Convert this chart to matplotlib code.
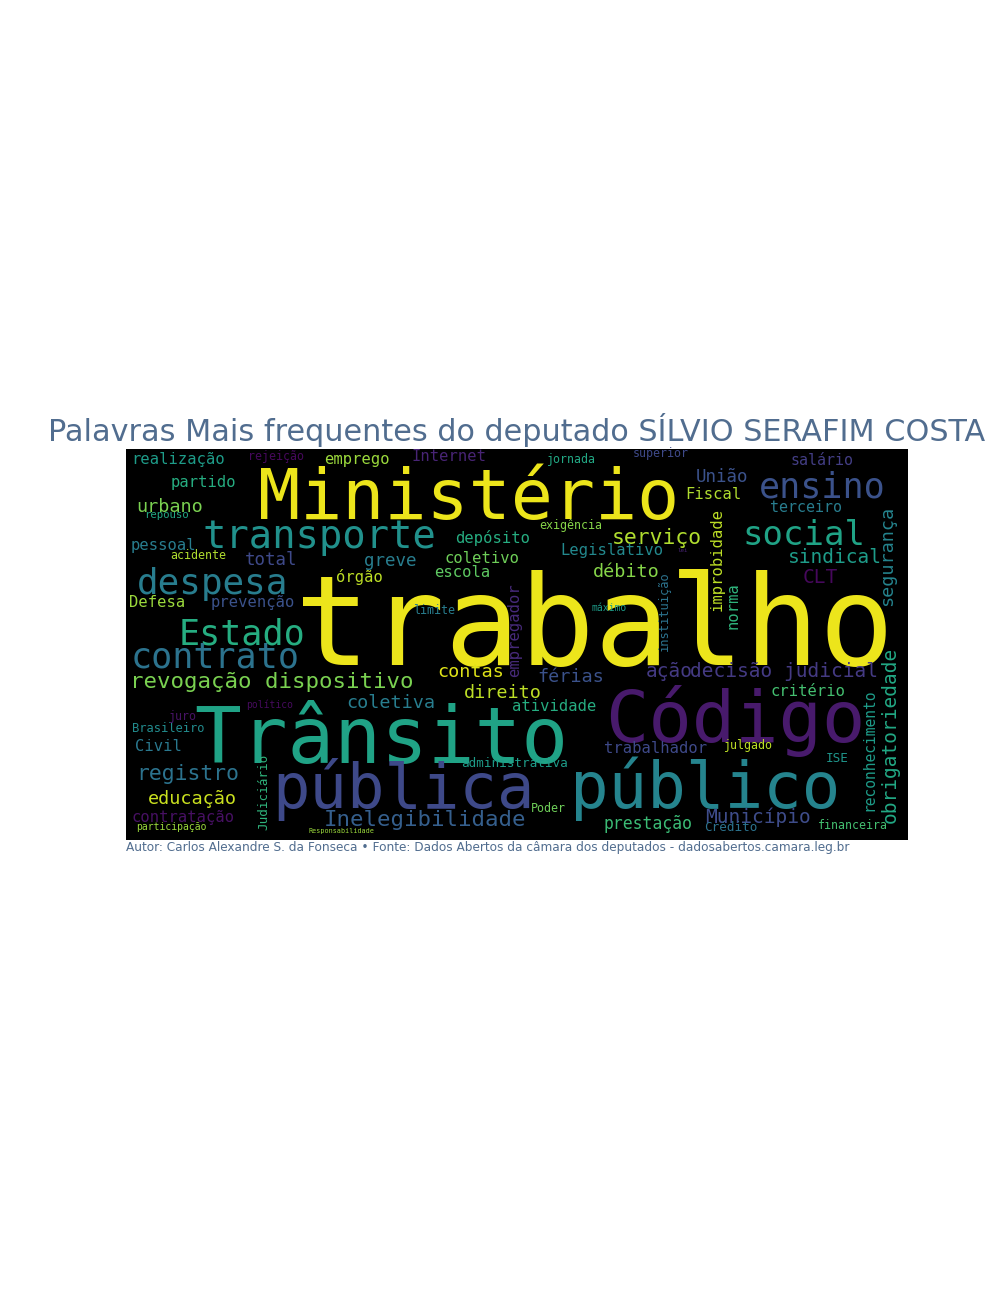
import matplotlib
matplotlib.use("Agg")
import matplotlib.pyplot as plt

# palavras e pesos (tamanho relativo na nuvem, px do canvas 782x391)
words = ["trabalho", "Ministério", "Trânsito", "Código", "pública", "público",
         "transporte", "despesa", "Estado", "contrato", "ensino", "social",
         "revogação dispositivo", "ação", "decisão judicial", "Inelegibilidade",
         "Município", "registro", "educação", "contratação", "participação",
         "Judiciário", "Responsabilidade", "Poder", "administrativa", "prestação",
         "Crédito", "financeira", "reconhecimento", "obrigatoriedade", "ISE",
         "julgado", "trabalhador", "critério", "férias", "contas", "direito",
         "atividade", "coletiva", "Civil", "Brasileiro", "juro", "político",
         "empregador", "instituição", "improbidade", "norma", "máximo", "limite",
         "exigência", "serviço", "Legislativo", "débito", "lei", "sindical", "CLT",
         "segurança", "terceiro", "Fiscal", "União", "salário", "superior",
         "jornada", "Internet", "emprego", "rejeição", "realização", "partido",
         "urbano", "repouso", "pessoal", "acidente", "total", "greve", "depósito",
         "coletivo", "escola", "órgão", "Defesa", "prevenção"]
weights = [128, 72, 80, 74, 64, 66,
           40, 37, 36, 36, 36, 35,
           23, 20, 20, 23,
           20, 22, 19, 16, 10,
           13, 7, 12, 13, 17,
           13, 12, 15, 20, 13,
           12, 16, 16, 19, 19, 19,
           16, 19, 16, 12.5, 12, 10,
           16, 12.5, 16, 16, 10, 12,
           12, 22, 16, 19, 6, 20, 20,
           19, 15.5, 16, 18, 15.5, 12,
           12, 16, 16, 12, 16, 16,
           19, 11, 16, 12, 18, 18, 16,
           16, 16, 16, 16, 16]

# layout da nuvem: x, y (linha de base ou centro se vertical), tom no viridis
xs = [468, 343, 255, 609, 277, 579,
      193, 87, 116, 89, 696, 678,
      146, 543, 658, 299,
      632, 62, 66, 57, 45,
      138, 215, 422, 388, 522,
      605, 727, 743, 764, 711,
      622, 530, 682, 445, 345, 377,
      428, 265, 32, 42, 57, 144,
      389, 538, 591, 607, 483, 308,
      445, 531, 486, 500, 557, 709, 694,
      761, 680, 587, 596, 696, 535,
      445, 323, 231, 150, 52, 77,
      44, 40, 37, 72, 145, 264, 367,
      356, 336, 233, 31, 127]
ys = [216, 70, 314, 293, 359, 359,
      99, 145, 196, 219, 49, 96,
      239, 228, 228, 377,
      374, 331, 355, 373, 381,
      343, 384, 363, 318, 380,
      382, 380, 301, 286, 313,
      300, 304, 247, 233, 228, 249,
      262, 259, 302, 283, 271, 259,
      181, 162, 111, 157, 162, 165,
      80, 95, 106, 128, 103, 114, 134,
      107, 63, 50, 33, 16, 8,
      14, 12, 15, 11, 15, 38,
      63, 69, 101, 110, 116, 117, 94,
      114, 128, 133, 158, 158]
vertical = {"Judiciário", "reconhecimento", "obrigatoriedade", "empregador",
            "instituição", "improbidade", "norma", "segurança"}
tones = [0.97, 0.97, 0.58, 0.07, 0.22, 0.45,
         0.5, 0.42, 0.62, 0.38, 0.25, 0.58,
         0.8, 0.17, 0.17, 0.3,
         0.23, 0.38, 0.92, 0.04, 0.85,
         0.65, 0.85, 0.78, 0.55, 0.68,
         0.38, 0.7, 0.55, 0.6, 0.52,
         0.9, 0.22, 0.7, 0.25, 0.95, 0.9,
         0.62, 0.42, 0.4, 0.48, 0.05, 0.03,
         0.12, 0.38, 0.9, 0.65, 0.55, 0.42,
         0.82, 0.88, 0.47, 0.82, 0.1, 0.55, 0.02,
         0.45, 0.42, 0.88, 0.25, 0.18, 0.22,
         0.6, 0.1, 0.85, 0.02, 0.55, 0.62,
         0.8, 0.6, 0.42, 0.88, 0.22, 0.42, 0.62,
         0.78, 0.75, 0.9, 0.85, 0.25]

deputado = "SÍLVIO SERAFIM COSTA"
fonte = ("Autor: Carlos Alexandre S. da Fonseca \u2022 Fonte: Dados Abertos da câmara "
         "dos deputados - dadosabertos.camara.leg.br")

cor_texto = "#516d8f"
cmap = plt.get_cmap("viridis")

fig = plt.figure(figsize=(10.08, 12.96), dpi=100)
ax = fig.add_axes([0.125, 0.3519, 0.7758, 0.3017])
ax.set_xlim(0, 782)
ax.set_ylim(391, 0)
ax.set_facecolor("black")
ax.set_xticks([])
ax.set_yticks([])
for s in ax.spines.values():
    s.set_visible(False)

for w, p, x, y, t in zip(words, weights, xs, ys, tones):
    pt = p * 0.70
    if w in vertical:
        ax.text(x, y, w, fontsize=pt, color=cmap(t), family="DejaVu Sans Mono",
                rotation=90, ha="center", va="center")
    else:
        ax.text(x, y, w, fontsize=pt, color=cmap(t), family="DejaVu Sans Mono",
                ha="center", va="baseline")

ax.set_title("Palavras Mais frequentes do deputado " + deputado,
             fontsize=21.8, color=cor_texto)
ax.text(0, -0.002, fonte, transform=ax.transAxes, ha="left", va="top",
        fontsize=8.7, color=cor_texto)

fig.savefig("out.png", dpi=100)
